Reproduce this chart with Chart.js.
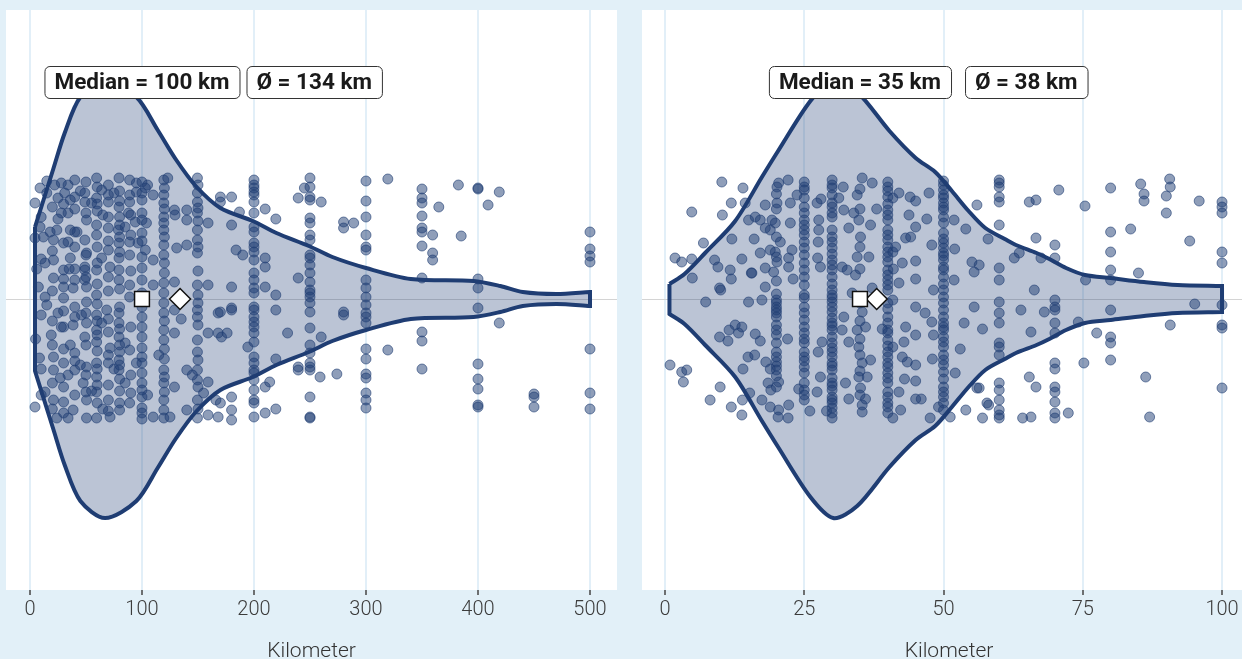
<!DOCTYPE html>
<html>
<head>
<meta charset="utf-8">
<script src="https://cdn.jsdelivr.net/npm/chart.js@4.4.1/dist/chart.umd.min.js"></script>
<style>
  html, body { margin: 0; padding: 0; background: #e2f0f8; overflow: hidden; }
  .panel { position: absolute; top: 0; height: 659px; }
  #left { left: 0; width: 620px; }
  #right { left: 620px; width: 636px; }
</style>
</head>
<body>
<div class="panel" id="left"><canvas id="chartA"></canvas></div>
<div class="panel" id="right"><canvas id="chartB"></canvas></div>
<script>
/* global Chart */

// ---- left panel (km, jitter) ----
var ticksA = [0, 100, 200, 300, 400, 500];
var medianA = 100;
var meanA = 134;
var violinKmA = [4.5, 20.8, 31, 45, 67, 95, 114, 130, 148, 170, 199, 220, 249, 270, 300, 340, 396, 420, 440, 470, 500];
var violinHalfA = [72, 130, 166, 202, 219, 202, 169, 140, 113, 91, 78, 66, 53, 42, 31, 20, 18, 13, 7, 5, 7];
var looseA = [
  [9,111],[22,114],[28,116],[34,114],[40,119],[50,117],[59.5,121],[70,114],[79.5,121],[89,119],[95,116],[100,117],[105,114],[119.5,119],[123,121],[149.5,121],
  [4.5,96],[15,106],[25,101],[31,106],[36,99],[40,102],[49,106],[49,97],[59.5,101],[64,109],[70,97],[79.5,92],[89,104],[89,97],[95,107],[100,106],[103,111],[110,104],[119.5,104],[119.5,96],[129,89],[140,89],[149.5,106],[149.5,97],
  [9,72],[18,67],[24,69],[28,86],[34,86],[36,69],[42,67],[50.5,79],[59.5,74],[59.5,64],[70,71],[79,69],[80,82],[88,86],[94,77],[100,86],[100,79],[104,76],[119.5,82],[119.5,76],[119.5,69],[129.5,84],[140,79],[149.5,86],[149.5,69],[159,76],
  [4.5,61],[12,62],[21,59],[34,57],[40,67],[49,59],[70,49],[79.5,56],[89,57],[96.5,56],[100,42],[103,49],[110,39],[119.5,44],[119.5,54],[131,51],[140,54],[149.5,46],[149.5,59],[13.5,36],[21,39],[30,29],[36,41],[49,32],[50.5,46],[64,41],[71.5,32],[79.5,41],[89,44],
  [7.5,12],[21,21],[30,12],[40,19],[49,29],[49,19],[59.5,29],[70,22],[79.5,19],[79.5,29],[89,14],[100,19],[110,14],[119.5,16],[119.5,6],[129,17],[149.5,14],[159,14],[13.5,2],[30,1],[38.5,11],[50.5,12],[59.5,4],[89,2],
  [15,-6],[25,-14],[40,-8],[46,-16],[50.5,-3],[59.5,-16],[68.5,-11],[79.5,-14],[79.5,-24],[100,-8],[100,-18],[119.5,-4],[119.5,-14],[129,-11],[149.5,-11],[149.5,-18],[168,-14],[30,-28],[38.5,-26],[50.5,-24],[64,-24],
  [19,-36],[28,-28],[36,-46],[49,-38],[59.5,-31],[59.5,-43],[70,-33],[71.5,-49],[79.5,-38],[80,-53],[89,-51],[100,-38],[100,-49],[119.5,-31],[119.5,-41],[129,-34],[149.5,-41],[149.5,-53],[159,-34],[21,-58],[40,-54],
  [8.5,-59],[21,-71],[30,-64],[34,-76],[40,-71],[50.5,-68],[59.5,-78],[59.5,-64],[70,-64],[79.5,-71],[79.5,-61],[85,-84],[100,-64],[100,-74],[100,-84],[119.5,-71],[119.5,-84],[129,-88],[140,-71],[149.5,-71],[149.5,-81],[159,-83],[47.5,-84],[27,-79],
  [4.5,-108],[13.5,-93],[21,-101],[30,-103],[38.5,-111],[50.5,-101],[59.5,-93],[59.5,-119],[70,-101],[80,-104],[80,-111],[89,-104],[100,-98],[100,-109],[110,-118],[119.5,-101],[119.5,-111],[119.5,-119],[140,-111],[149.5,-101],[149.5,-119],[159,-116],[24,-119],[34,-119],[50.5,-119],[71.5,-118],
  [15,118],[45,108],[55,96],[65,84],[75,106],[85,72],[25,80],[35,30],[45,-66],[55,-92],[65,-110],[75,-70],[85,-44],[95,-64],[105,-96],[115,-56],[125,-118],[135,-20],[145,-76],[155,-94],[5,-40],[6,30],
  [170,102],[170,97],[170,-13],[168,-34],[171,-38],[166,-101],[170,-104],[168,-118],
  [180,102],[180,74],[180,12],[180,-9],[180,-11],[176,-34],[180,-98],[180,-111],[180,-121],
  [187,87],[184,49],[190,44],
  [210,90],[210,41],[210,32],[210,12],[210,-88],[210,-114],[214,-83],[219.5,80],[219.5,4],[219.5,-11],[219.5,-60],[219.5,-110],[230,-34],[239.5,101],[239.5,21],[239.5,-68],[239.5,-71],[194.5,-48],
  [245,111],[260,97],[260,-38],[259,-78],
  [280,77],[280,71],[289,76],[280,-13],[280,-16],[274,-75],
  [319.5,120],[319.5,-51],
  [359.5,64],[359.5,46],[359.5,39],[365,92],[382.5,114],[385,63],
  [409,94],[419,107],[419,-24]
];
var columnsA = [
  [10, [82,40,-16,-70,-96]],
  [20, [92,48,8,-22,-46,-84,-110]],
  [30, [95,56,20,-12,-50,-88,-114]],
  [40, [90,52,30,-18,-62,-96]],
  [50, [86,44,22,-14,-46,-76,-93]],
  [60, [112,95,88,52,36,15,-5,-22,-36,-52,-70,-86,-104]],
  [70, [104,82,58,8,-20,-56,-86,-112]],
  [80, [108,98,74,62,47,10,-8,-30,-46,-66,-80,-92]],
  [90, [84,64,28,-28,-76,-94]],
  [100, [99,66,58,31,6,-2,-28,-58,-91,-114,-120]],
  [120, [111,90,62,36,26,-22,-50,-60,-78,-93]],
  [150, [114,91,78,52,28,4,-4,-26,-61,-88,-110]],
  [200, [119,114,111,107,104,97,86,72,67,56,52,47,39,26,19,11,6,-8,-11,-18,-23,-28,-34,-43,-58,-64,-71,-74,-81,-91,-101,-104,-118]],
  [250, [121,112,102,99,81,76,64,59,44,41,34,26,17,9,6,2,-4,-13,-29,-46,-54,-64,-68,-71,-98,-118,-119]],
  [300, [118,98,82,64,52,49,19,11,2,-6,-14,-18,-24,-50,-60,-75,-79,-94,-101,-109]],
  [350, [110,101,96,83,71,67,53,21,-33,-42,-70]],
  [400, [111,110,20,11,-9,-65,-80,-90,-106,-108]],
  [450, [-95,-98,-108]],
  [500, [67,50,43,37,-50,-94,-110]]
];

// ---- right panel (km, jitter) ----
var ticksB = [0, 25, 50, 75, 100];
var medianB = 35;
var meanB = 38;
var violinKmB = [0.8, 3.5, 7.2, 12.6, 17.4, 20.3, 26.1, 30.2, 34.5, 40.3, 45, 48.5, 51.5, 54.5, 57.5, 61, 63, 66.7, 69, 72, 75.4, 80, 86, 92, 100];
var violinHalfB = [15, 25, 46, 78, 122, 148, 198, 219, 207, 168, 141, 127, 108, 88, 71, 60, 54, 46, 40, 31, 24, 21, 17, 14, 13];
var looseB = [
  [0.9,-66],[3,-73],[3.9,-71],[3.3,-83],[1.8,41],[3,37],[4.8,40],[4.8,87],[6.9,56],[10.2,117],[11.9,96],[10.3,84],[14,111],[8.1,-101],[9.9,-88],[11.9,-108],[13.8,-116],[13.9,-101],
  [4.9,21],[7.3,-3],[8.9,39],[9.5,32],[9.8,11],[10,9],[11.7,29],[11.9,20],[13.8,40],[15.5,26],[15,-3],[17.4,-1],[12.6,-26],[11.5,-31],[13.8,-28],[9.8,-38],[11.3,-42],[13.2,-34],[16.2,-35],[17.1,-42],[14.9,-58],[16.1,-56],[18.1,-63],[18.9,-70],[15.2,-94],[17.4,-101],[18.9,-108],[20.4,-111],[22.1,-119],[20.3,-118],[18.5,-84],[19,-91],[20.4,-83],[22.2,-106],
  [14.4,96],[15,79],[16.2,82],[18,94],[17.1,79],[18,71],[19.2,79],[19.8,76],[18.9,69],[20.1,96],[20.1,112],[20.4,116],[22.1,119],[22.5,96],[23.7,104],[22.5,76],[20.7,57],[18.9,49],[19.8,47],[22.8,49],[22.2,41],[22.2,32],[20.1,37],[18,31],[17.1,46],[15.6,26],[19.5,27],
  [27.3,96],[27.6,79],[27.6,69],[27.5,57],[27.4,41],[27.9,32],[27.5,-53],[28.2,-43],[27.3,-93],[27.9,-78],
  [31.2,101],[32.1,89],[33,71],[31.8,32],[32.7,29],[32.1,-18],[31.8,-31],[33,-43],[33.6,6],[32.4,-84],
  [35.4,121],[34.5,104],[33.9,86],[34.8,79],[35.1,62],[34.5,42],[34.2,24],[35.4,-13],[34.5,-31],[34.8,-48],[35.4,-64],[34.8,-78],[35.1,-89],[35.4,-106],[35.4,-113],
  [37.2,116],[36.9,74],[36.6,42],[37.2,11],[36,-28],[36.9,-61],[36.3,-78],
  [40.9,101],[40.9,47],[40.9,-1],[40.9,-48],[42.3,-111],[40.9,-119],
  [42,106],[41.4,52],[42.6,36],[42,16],[43.2,-28],[42.9,-43],[42.6,-58],[43.5,-63],[42,-93],[43.8,84],[43.2,61],
  [44.1,62],[47.4,106],[47.9,54],[46.7,-14],[47.9,-23],[48.2,-36],[47.6,-119],[48.2,9],
  [51.9,79],[51.9,19],[52.1,-74],[51.2,-118],[49.1,-108],
  [56,94],[55.1,37],[56.4,34],[55.5,27],[55.5,-8],[53.7,-24],[56,-89],[54,-111],[57,-119],
  [65.4,97],[66.6,99],[66.6,61],[63.9,-11],[63.6,46],[62.7,41],[65.7,-33],[65.4,-78],[66.6,-88],[65.7,-118],[57.8,-104],[58.1,-106],[56.4,-89],[66.3,9],[68.1,-13],[67.5,41],[64.2,-119],
  [12,60],[14,-70],[16,60],[18,12],[22,-40],[23,20],[24,-90],[26,-112],[28,100],[29,-112],[32,112],[33,-100],[36,-100],[38,90],[39,-30],[41,30],[43,-80],[44,102],[46,-100],[47,80],[48,-60],[52,50],[53,-50],[54,70],[57,-30],[58,60],
  [70.7,109],[72.4,-114],
  [75.4,93],[75.5,19],[74.2,-23],[75.2,-64],[77.5,-34],
  [83.6,70],[85,26],[86.3,-78],[87,-118],[85.4,115],[86,105],[86,98],
  [90.6,120],[90.7,112],[90,103],[90,86],[90.7,-26],[94.2,58],[95.1,-5],[95.9,98]
];
var columnsB = [
  [20, [105,90,62,42,18,5,-1,-4,-8,-11,-14,-18,-26,-31,-36,-44,-53,-58,-63,-67,-71,-77,-88]],
  [25, [117,112,109,101,92,86,79,74,69,64,57,51,44,36,29,22,14,4,1,-8,-14,-21,-28,-34,-40,-44,-53,-58,-62,-68,-74,-84,-91,-96,-101]],
  [30, [119,114,111,104,96,92,86,82,69,62,57,51,45,39,34,29,22,15,9,4,1,-3,-8,-13,-19,-24,-27,-31,-38,-44,-49,-53,-58,-64,-67,-71,-79,-84,-87,-91,-98,-101,-104,-109,-114,-119]],
  [35, [110,90,52,30,-4,-22,-40,-56,-72,-96]],
  [40, [117,112,108,102,95,89,84,79,69,64,59,52,47,42,37,29,24,19,14,9,-4,-10,-18,-24,-31,-34,-41,-47,-53,-58,-64,-68,-74,-79,-84,-93,-98,-104,-108,-114]],
  [45, [98,72,38,20,-8,-36,-66,-82,-100]],
  [50, [118,114,109,104,101,96,92,89,82,76,66,60,56,51,46,43,39,32,29,22,15,9,2,-4,-11,-18,-24,-28,-31,-38,-43,-48,-56,-61,-66,-73,-80,-88,-93,-98,-104,-111]],
  [60, [119,116,112,102,97,74,31,19,-3,-14,-24,-44,-48,-56,-84,-91,-101,-111,-116,-119]],
  [70, [54,41,-1,-8,-11,-24,-34,-64,-70,-88,-93,-103,-114,-119]],
  [80, [111,67,47,29,19,-11,-38,-44,-61]],
  [100, [97,92,86,47,36,-6,-26,-29,-89]]
];

var NAVY = '#1f3d73';

function toPoints(loose, columns) {
    var pts = loose.map(function (p) { return {x: p[0], y: p[1]}; });
    columns.forEach(function (c) {
        c[1].forEach(function (j) { pts.push({x: c[0], y: j}); });
    });
    return pts;
}

// closed outline: top left->right, bottom right->left (corners doubled so they stay sharp)
function violinOutline(km, half) {
    var n = km.length, pts = [], i;
    pts.push({x: km[0], y: half[0]});
    for (i = 0; i < n; i++) pts.push({x: km[i], y: half[i]});
    pts.push({x: km[n - 1], y: half[n - 1]});
    pts.push({x: km[n - 1], y: -half[n - 1]});
    for (i = n - 1; i >= 0; i--) pts.push({x: km[i], y: -half[i]});
    pts.push({x: km[0], y: -half[0]});
    pts.push({x: km[0], y: half[0]});
    return pts;
}

var panelBackground = {
    id: 'panelBackground',
    beforeDraw: function (chart) {
        var a = chart.chartArea, ctx = chart.ctx;
        ctx.save();
        ctx.fillStyle = '#ffffff';
        ctx.fillRect(a.left, a.top, a.right - a.left, a.bottom - a.top);
        ctx.restore();
    }
};

function roundBox(ctx, x, y, w, h, r) {
    ctx.beginPath();
    ctx.moveTo(x + r, y);
    ctx.arcTo(x + w, y, x + w, y + h, r);
    ctx.arcTo(x + w, y + h, x, y + h, r);
    ctx.arcTo(x, y + h, x, y, r);
    ctx.arcTo(x, y, x + w, y, r);
    ctx.closePath();
}

var statLabels = {
    id: 'statLabels',
    afterDatasetsDraw: function (chart, args, opts) {
        var ctx = chart.ctx;
        var xs = chart.scales.x, ys = chart.scales.y;
        var cy = ys.getPixelForValue(opts.y);
        var h = 32, pad = 10;
        ctx.save();
        ctx.font = 'bold 22.5px Roboto';
        ctx.textBaseline = 'middle';
        ctx.textAlign = 'center';
        var texts = ['Median = ' + opts.median + ' km', '\u00d8 = ' + opts.mean + ' km'];
        var w1 = ctx.measureText(texts[0]).width + 2 * pad;
        var w2 = ctx.measureText(texts[1]).width + 2 * pad;
        var x1 = xs.getPixelForValue(opts.median) - w1 / 2;
        var x2 = x1 + w1 + opts.gap;
        [[x1, w1, texts[0]], [x2, w2, texts[1]]].forEach(function (b) {
            roundBox(ctx, b[0] + 0.5, cy - h / 2 + 0.5, b[1], h, 5);
            ctx.fillStyle = '#ffffff';
            ctx.fill();
            ctx.lineWidth = 1;
            ctx.strokeStyle = '#333333';
            ctx.stroke();
            ctx.fillStyle = '#1a1a1a';
            ctx.fillText(b[2], b[0] + b[1] / 2, cy + 1);
        });
        ctx.restore();
    }
};

function buildChart(id, cfg) {
    return new Chart(document.getElementById(id), {
        type: 'scatter',
        data: {
            datasets: [{
                data: [{x: cfg.median, y: 0}],
                pointStyle: 'rect',
                pointRadius: 10.5,
                backgroundColor: '#ffffff',
                borderColor: '#111111',
                borderWidth: 1.5,
                order: 0
            }, {
                data: [{x: cfg.mean, y: 0}],
                pointStyle: 'rectRot',
                pointRadius: 10.5,
                backgroundColor: '#ffffff',
                borderColor: '#111111',
                borderWidth: 1.5,
                order: 0
            }, {
                data: toPoints(cfg.loose, cfg.columns),
                pointRadius: 5,
                backgroundColor: 'rgba(31,61,115,0.5)',
                borderColor: 'rgba(31,61,115,0.6)',
                borderWidth: 1,
                order: 1
            }, {
                type: 'line',
                data: violinOutline(cfg.violinKm, cfg.violinHalf),
                fill: 'shape',
                backgroundColor: 'rgba(31,61,115,0.3)',
                borderColor: NAVY,
                borderWidth: 4,
                tension: 0.3,
                pointRadius: 0,
                order: 2
            }]
        },
        options: {
            responsive: true,
            maintainAspectRatio: false,
            animation: false,
            events: [],
            layout: {padding: cfg.padding, autoPadding: false},
            plugins: {
                legend: {display: false},
                tooltip: {enabled: false},
                statLabels: {median: cfg.median, mean: cfg.mean, gap: cfg.gap, y: 217}
            },
            scales: {
                x: {
                    type: 'linear',
                    min: cfg.min,
                    max: cfg.max,
                    afterBuildTicks: function (scale) {
                        scale.ticks = cfg.ticks.map(function (v) { return {value: v}; });
                    },
                    afterFit: function (scale) {
                        scale.height = 69;
                    },
                    border: {display: false},
                    grid: {color: '#e2eff8', lineWidth: 2, tickColor: '#444444', tickLength: 5, tickWidth: 1.5},
                    ticks: {
                        autoSkip: false,
                        maxRotation: 0,
                        padding: 3,
                        color: '#3c3c3c',
                        font: {family: 'Roboto', size: 20, weight: 300}
                    },
                    title: {
                        display: true,
                        text: 'Kilometer',
                        color: '#333333',
                        padding: {top: 0, bottom: -5},
                        font: {family: 'Roboto', size: 21, weight: 300}
                    }
                },
                y: {
                    min: -291,
                    max: 289,
                    afterBuildTicks: function (scale) { scale.ticks = [{value: 0}]; },
                    afterFit: function (scale) { scale.width = 0; },
                    border: {display: false},
                    grid: {color: '#d4d4d4', lineWidth: 1, drawTicks: false},
                    ticks: {display: false}
                }
            }
        },
        plugins: [panelBackground, statLabels]
    });
}

buildChart('chartA', {
    ticks: ticksA, median: medianA, mean: meanA, loose: looseA, columns: columnsA,
    violinKm: violinKmA, violinHalf: violinHalfA,
    min: -21.4, max: 524.1, gap: 7,
    padding: {left: 6, right: 3, top: 10, bottom: 0}
});

buildChart('chartB', {
    ticks: ticksB, median: medianB, mean: meanB, loose: looseB, columns: columnsB,
    violinKm: violinKmB, violinHalf: violinHalfB,
    min: -4.13, max: 106.1, gap: 14,
    padding: {left: 22, right: 0, top: 10, bottom: 0}
});
</script>
</body>
</html>
